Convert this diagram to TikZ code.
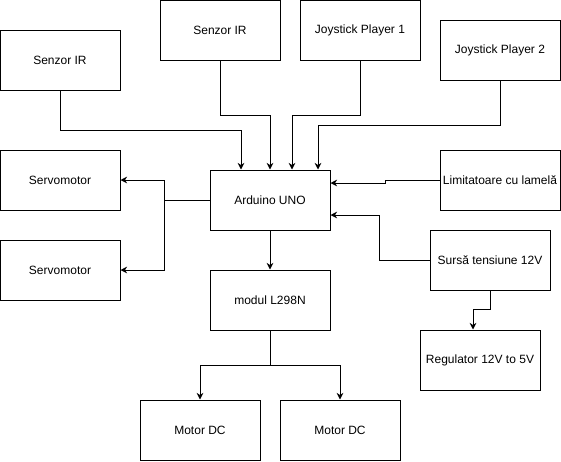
\documentclass[tikz,border=0pt]{standalone}
\usepackage{fontspec}
\setmainfont{Liberation Sans}
\usepackage{tikz}
\usetikzlibrary{arrows.meta,calc}

\begin{document}
\begin{tikzpicture}[x=0.75pt,y=-0.75pt,line width=0.75pt,
  blok/.style={draw,rectangle,minimum width=90pt,minimum height=45pt,inner sep=0pt,
    font=\fontsize{9}{11}\selectfont},
  sageata/.style={-{Stealth[length=5pt,width=5pt]}}]
  \useasboundingbox (0,0) rectangle (561,461);

  \node[blok] (senzorA) at (60,60) {Senzor IR};
  \node[blok] (senzorB) at (220,30) {Senzor IR};
  \node[blok] (joy1) at (360,30) {Joystick Player 1};
  \node[blok] (joy2) at (500,50) {Joystick Player 2};
  \node[blok] (servo1) at (60,180) {Servomotor};
  \node[blok] (servo2) at (60,270) {Servomotor};
  \node[blok] (arduino) at (270,200) {Arduino UNO};
  \node[blok] (limit) at (500,180) {Limitatoare cu lamelă};
  \node[blok] (sursa) at (490,260) {Sursă tensiune 12V};
  \node[blok] (modul) at (270,300) {modul L298N};
  \node[blok] (reg) at (480,360) {Regulator 12V to 5V};
  \node[blok] (motor1) at (200,430) {Motor DC};
  \node[blok] (motor2) at (340,430) {Motor DC};

  % intrari
  \draw[sageata] (senzorA.south) -- ++(0,40) -| ($(arduino.north)+(-29,0)$);
  \draw[sageata] (senzorB.south) -- ++(0,55) -| (arduino.north);
  \draw[sageata] (joy1.south) -- ++(0,55) -| ($(arduino.north)+(22,0)$);
  \draw[sageata] (joy2.south) -- ++(0,45) -| ($(arduino.north)+(48,0)$);
  \draw[sageata] (limit.west) -- ++(-54,0) -- ++(0,3) -- ($(arduino.east)+(0,-17)$);
  \draw[sageata] (sursa.west) -- ++(-50,0) |- ($(arduino.east)+(0,15)$);
  \draw[sageata] (sursa.south) -- ++(0,19) -| ($(reg.north)+(-7,0)$);

  % iesiri
  \draw[sageata] (arduino.west) -- ++(-45,0) |- (servo1.east);
  \draw[sageata] (arduino.west) -- ++(-45,0) |- (servo2.east);
  \draw[sageata] (arduino.south) -- (modul.north);
  \draw[sageata] (modul.south) -- ++(0,35) -| (motor1.north);
  \draw[sageata] (modul.south) -- ++(0,35) -| (motor2.north);
\end{tikzpicture}
\end{document}
